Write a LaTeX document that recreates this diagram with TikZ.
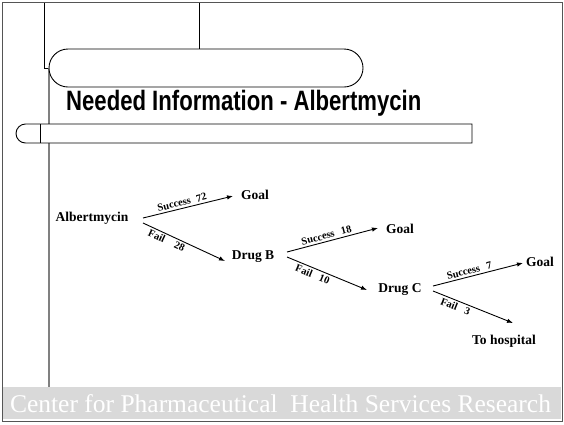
\documentclass[tikz,border=0pt]{standalone}
\usepackage{fontspec}
\setmainfont{Liberation Serif}
\newfontfamily\titlefont{Liberation Sans}
\usetikzlibrary{arrows.meta}
\definecolor{footgray}{HTML}{D9D9D9}
\definecolor{framegray}{HTML}{555555}
\definecolor{rulegray}{HTML}{808080}
\begin{document}
\begin{tikzpicture}[x=1pt,y=1pt,
  treenode/.style={font=\fontsize{13.5}{15}\selectfont\bfseries, inner sep=0pt},
  arr/.style={-{Latex[length=6pt,width=4.5pt]}, line width=0.9pt},
  lbl/.style={font=\fontsize{10.5}{12}\selectfont\bfseries, sloped, inner sep=2pt},
  thinline/.style={line width=0.8pt, black},
  deco/.style={line width=0.9pt, black, fill=white}]
\useasboundingbox (0,-424) rectangle (564,0);
\fill[white] (0,-424) rectangle (564,0);
% footer band
\fill[footgray] (3,-387) rectangle (561,-419);
\node[anchor=base, text=white, font=\rmfamily\fontsize{25.5}{28}\selectfont, inner sep=0pt] (footer) at (280.5,-412) {Center for Pharmaceutical\ \ Health Services Research};
% outer frame
\draw[framegray, line width=1.3pt] (2.5,-2.5) rectangle (562.5,-421.5);
% decorative lines
\draw[thinline] (44,-2.5) -- (44,-68) -- (49,-68);
\draw[thinline] (199,-2.5) -- (199,-49);
\draw[rulegray, line width=1.2pt] (49,-68) -- (49,-387);
% rounded box 1
\draw[deco] (344,-49) -- (68,-49) arc[start angle=90, end angle=270, radius=19] -- (344,-87) arc[start angle=-90, end angle=90, radius=19] -- cycle;
% rounded box 2
\draw[deco] (472,-124) -- (25.5,-124) arc[start angle=90, end angle=270, radius=9.5] -- (472,-143) -- cycle;
\draw[thinline] (40,-124) -- (40,-143);
% title
\node[anchor=base west, inner sep=0pt, font=\titlefont\fontsize{28}{32}\selectfont\bfseries] (title) at (66,-110) {\scalebox{0.79}[1]{Needed Information - Albertmycin}};
% tree nodes
\node[treenode] (alb) at (92,-218) {Albertmycin};
\node[treenode] (g1) at (255,-195) {Goal};
\node[treenode] (drugB) at (253,-257) {Drug B};
\node[treenode] (g2) at (400,-229) {Goal};
\node[treenode] (drugC) at (400,-290) {Drug C};
\node[treenode] (g3) at (540,-262) {Goal};
\node[treenode] (hosp) at (504,-341) {To hospital};
% connector end points
\coordinate (a1) at (143,-218); \coordinate (a1e) at (233,-196);
\coordinate (a2) at (143,-223); \coordinate (a2e) at (225,-261);
\coordinate (b1) at (287,-252); \coordinate (b1e) at (378,-228);
\coordinate (b2) at (287,-257); \coordinate (b2e) at (367,-290);
\coordinate (c1) at (433,-286); \coordinate (c1e) at (523,-263);
\coordinate (c2) at (433,-291); \coordinate (c2e) at (513,-323);
% connectors
\draw[arr] (a1) -- node[lbl, above, pos=0.45] {Success\hspace{6pt}72} (a1e);
\draw[arr] (a2) -- node[lbl, below, pos=0.32] {Fail\hspace{11pt}28} (a2e);
\draw[arr] (b1) -- node[lbl, above, pos=0.45] {Success\hspace{7pt}18} (b1e);
\draw[arr] (b2) -- node[lbl, below, pos=0.35] {Fail\hspace{8pt}10} (b2e);
\draw[arr] (c1) -- node[lbl, above, pos=0.42] {Success\hspace{7pt}7} (c1e);
\draw[arr] (c2) -- node[lbl, below, pos=0.31] {Fail\hspace{8pt}3} (c2e);
\end{tikzpicture}
\end{document}
